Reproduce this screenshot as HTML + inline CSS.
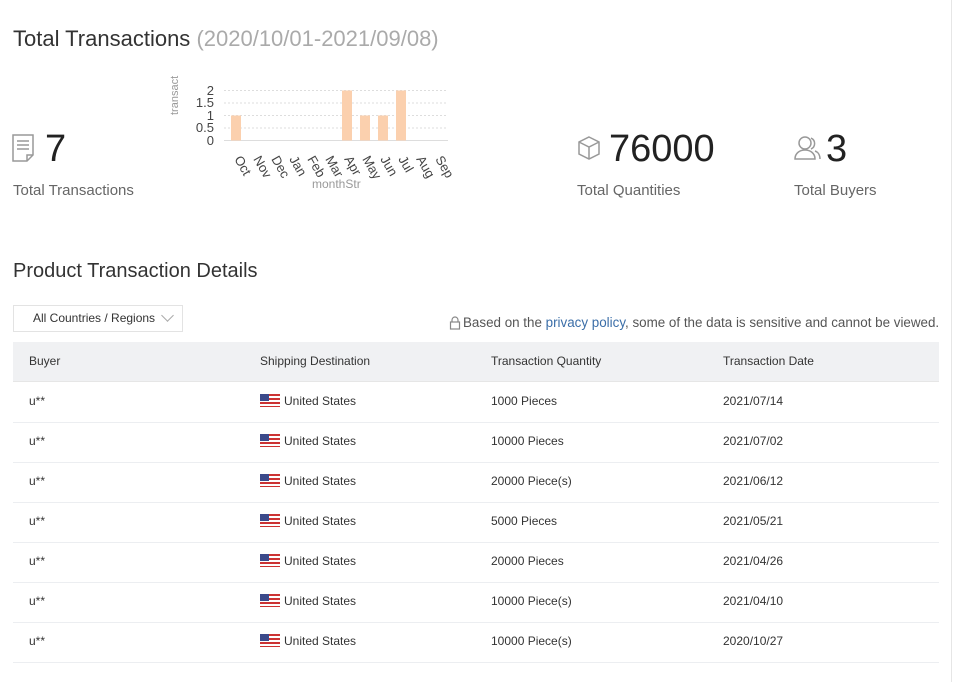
<!DOCTYPE html>
<html><head><meta charset="utf-8"><style>
body{margin:0;width:956px;height:682px;background:#fff;font-family:"Liberation Sans",sans-serif;color:#333;position:relative;overflow:hidden}
.a{position:absolute;white-space:nowrap}
.h1{font-size:22px;color:#333}
.big{font-size:38px;color:#222}
.lab{font-size:15px;color:#666}
.t{font-size:12px;color:#333}
.row{position:absolute;left:13px;width:926px;height:40px;border-bottom:1px solid #eceef1}
.flag{display:inline-block;width:20px;height:13px;vertical-align:-2px;margin-right:4px;background:repeating-linear-gradient(#c33 0 2px,#fff 2px 4px);position:relative}
.flag:before{content:"";position:absolute;left:0;top:0;width:9px;height:7px;background:#3b4a8a}
</style></head><body>
<div class="a h1" style="left:13px;top:26px">Total Transactions <span style="color:#aaa">(2020/10/01-2021/09/08)</span></div>

<svg class="a" style="left:10px;top:133px" width="30" height="32" viewBox="0 0 30 32"><path d="M3 2h20v20l-6 6H3z" fill="none" stroke="#999" stroke-width="1.5"/><path d="M7 8h12M7 12h12M7 16h12M17 28v-6h6" fill="none" stroke="#999" stroke-width="1.5"/></svg>
<div class="a big" style="left:45px;top:128px">7</div>
<div class="a lab" style="left:13px;top:182px">Total Transactions</div>

<svg class="a" style="left:160px;top:60px" width="300" height="140">
<text x="18" y="55" transform="rotate(-90 18 55)" font-size="11" fill="#999" font-family="Liberation Sans">transact</text>
<g font-size="13" fill="#444" font-family="Liberation Sans" text-anchor="end">
<text x="54" y="35">2</text><text x="54" y="47">1.5</text><text x="54" y="60">1</text><text x="54" y="72">0.5</text><text x="54" y="85">0</text></g>
<g stroke="#ddd" stroke-dasharray="2,2"><line x1="64" x2="288" y1="30.5" y2="30.5"/><line x1="64" x2="288" y1="43" y2="43"/><line x1="64" x2="288" y1="55.5" y2="55.5"/><line x1="64" x2="288" y1="68" y2="68"/></g>
<line x1="64" x2="288" y1="80.5" y2="80.5" stroke="#ddd"/>
<g fill="#fbd0ae"><rect x="71" y="55.5" width="10" height="25"/><rect x="182" y="30.5" width="10" height="50"/><rect x="200" y="55.5" width="10" height="25"/><rect x="218" y="55.5" width="10" height="25"/><rect x="236" y="30.5" width="10" height="50"/></g>
<g font-size="13" fill="#444" font-family="Liberation Sans">
<text transform="translate(74 99) rotate(60)">Oct</text><text transform="translate(93 99) rotate(60)">Nov</text><text transform="translate(111 99) rotate(60)">Dec</text><text transform="translate(129 99) rotate(60)">Jan</text><text transform="translate(147 99) rotate(60)">Feb</text><text transform="translate(165 99) rotate(60)">Mar</text><text transform="translate(184 99) rotate(60)">Apr</text><text transform="translate(202 99) rotate(60)">May</text><text transform="translate(220 99) rotate(60)">Jun</text><text transform="translate(238 99) rotate(60)">Jul</text><text transform="translate(256 99) rotate(60)">Aug</text><text transform="translate(275 99) rotate(60)">Sep</text></g>
<text x="152" y="128" font-size="12" fill="#999" font-family="Liberation Sans">monthStr</text>
</svg>

<svg class="a" style="left:576px;top:135px" width="26" height="26" viewBox="0 0 26 26"><path d="M13 2l10 5v12l-10 5-10-5V7zM3 7l10 5 10-5M13 12v12" fill="none" stroke="#999" stroke-width="1.5"/></svg>
<div class="a big" style="left:609px;top:128px">76000</div>
<div class="a lab" style="left:577px;top:182px">Total Quantities</div>
<svg class="a" style="left:793px;top:135px" width="28" height="26" viewBox="0 0 28 26"><circle cx="12" cy="8" r="6" fill="none" stroke="#999" stroke-width="1.5"/><path d="M2 24c0-6 5-9 10-9s10 3 10 9z" fill="none" stroke="#999" stroke-width="1.5"/><path d="M18 3a6 6 0 0 1 0 11M22 16c3 1 5 4 5 8" fill="none" stroke="#999" stroke-width="1.5"/></svg>
<div class="a big" style="left:826px;top:128px">3</div>
<div class="a lab" style="left:794px;top:182px">Total Buyers</div>

<div class="a h1" style="left:13px;top:260px;font-size:20px">Product Transaction Details</div>
<div class="a" style="left:13px;top:305px;width:168px;height:25px;border:1px solid #e3e3e3;font-size:12px;line-height:25px;color:#333"><span style="margin-left:19px">All Countries / Regions</span><span style="position:absolute;left:149px;top:5px;width:8px;height:8px;border-right:1px solid #aaa;border-bottom:1px solid #aaa;transform:rotate(45deg)"></span></div>
<svg class="a" style="left:449px;top:316px" width="12" height="14" viewBox="0 0 12 14"><path d="M3 6V4a3 3 0 0 1 6 0v2" fill="none" stroke="#888" stroke-width="1.2"/><rect x="1.5" y="6" width="9" height="7" fill="none" stroke="#888" stroke-width="1.2"/></svg>
<div class="a" style="left:463px;top:315px;font-size:13.4px;color:#555">Based on the <span style="color:#3b6ea8">privacy policy</span>, some of the data is sensitive and cannot be viewed.</div>

<div class="a" style="left:951px;top:0;width:1px;height:682px;background:#e6e6e6"></div>
<div class="a" style="left:13px;top:342px;width:926px;height:39px;background:#f0f1f3;border-bottom:1px solid #e6e6e6"></div>
<div class="a t" style="left:29px;top:354px">Buyer</div>
<div class="a t" style="left:260px;top:354px">Shipping Destination</div>
<div class="a t" style="left:491px;top:354px">Transaction Quantity</div>
<div class="a t" style="left:723px;top:354px">Transaction Date</div>

<div class="row" style="top:382px"></div><div class="row" style="top:422px"></div><div class="row" style="top:462px"></div><div class="row" style="top:502px"></div><div class="row" style="top:542px"></div><div class="row" style="top:582px"></div><div class="row" style="top:622px"></div>

<div class="a t" style="left:29px;top:394px">u**</div><div class="a t" style="left:260px;top:394px"><span class="flag"></span>United States</div><div class="a t" style="left:491px;top:394px">1000 Pieces</div><div class="a t" style="left:723px;top:394px">2021/07/14</div>
<div class="a t" style="left:29px;top:434px">u**</div><div class="a t" style="left:260px;top:434px"><span class="flag"></span>United States</div><div class="a t" style="left:491px;top:434px">10000 Pieces</div><div class="a t" style="left:723px;top:434px">2021/07/02</div>
<div class="a t" style="left:29px;top:474px">u**</div><div class="a t" style="left:260px;top:474px"><span class="flag"></span>United States</div><div class="a t" style="left:491px;top:474px">20000 Piece(s)</div><div class="a t" style="left:723px;top:474px">2021/06/12</div>
<div class="a t" style="left:29px;top:514px">u**</div><div class="a t" style="left:260px;top:514px"><span class="flag"></span>United States</div><div class="a t" style="left:491px;top:514px">5000 Pieces</div><div class="a t" style="left:723px;top:514px">2021/05/21</div>
<div class="a t" style="left:29px;top:554px">u**</div><div class="a t" style="left:260px;top:554px"><span class="flag"></span>United States</div><div class="a t" style="left:491px;top:554px">20000 Pieces</div><div class="a t" style="left:723px;top:554px">2021/04/26</div>
<div class="a t" style="left:29px;top:594px">u**</div><div class="a t" style="left:260px;top:594px"><span class="flag"></span>United States</div><div class="a t" style="left:491px;top:594px">10000 Piece(s)</div><div class="a t" style="left:723px;top:594px">2021/04/10</div>
<div class="a t" style="left:29px;top:634px">u**</div><div class="a t" style="left:260px;top:634px"><span class="flag"></span>United States</div><div class="a t" style="left:491px;top:634px">10000 Piece(s)</div><div class="a t" style="left:723px;top:634px">2020/10/27</div>
</body></html>
